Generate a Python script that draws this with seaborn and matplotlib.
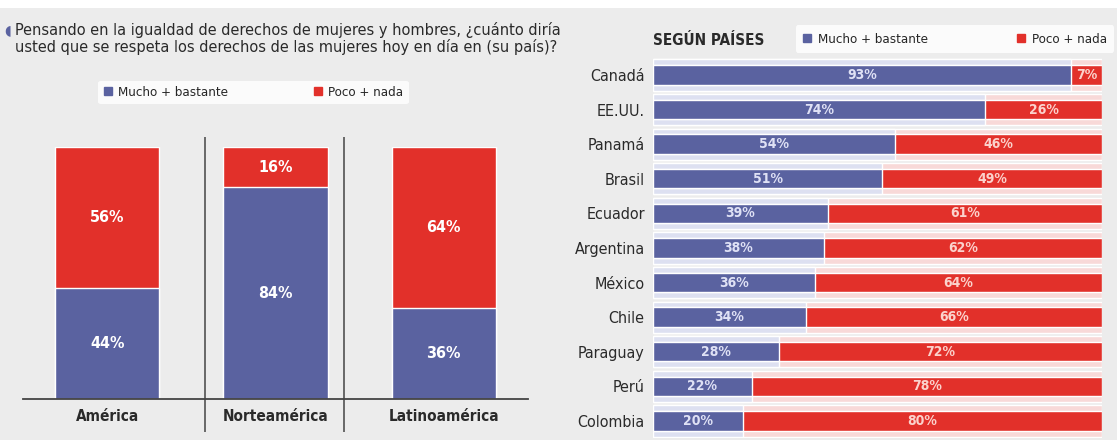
import matplotlib
matplotlib.use('Agg')
import matplotlib.pyplot as plt
from matplotlib import font_manager
from matplotlib.patches import Patch, Rectangle
import pandas as pd
import seaborn as sns

# ==========================================
# DATOS
# ==========================================
regiones = ['América', 'Norteamérica', 'Latinoamérica']
region_mucho = [44, 84, 36]
region_poco = [56, 16, 64]

paises = ['Canadá', 'EE.UU.', 'Panamá', 'Brasil', 'Ecuador', 'Argentina',
          'México', 'Chile', 'Paraguay', 'Perú', 'Colombia']
pais_mucho = [93, 74, 54, 51, 39, 38, 36, 34, 28, 22, 20]
pais_poco = [7, 26, 46, 49, 61, 62, 64, 66, 72, 78, 80]

etiquetas = ['Mucho + bastante', 'Poco + nada']
titulo = ('Pensando en la igualdad de derechos de mujeres y hombres, ¿cuánto diría\n'
          'usted que se respeta los derechos de las mujeres hoy en día en (su país)?')

# colores
AZUL = '#5a62a0'
ROJO = '#e2302a'
AZUL_CLARO = '#dde0f1'
ROJO_CLARO = '#f8d9d8'
FONDO = '#ececec'
TEXTO = '#2a2a2a'

sns.set_theme(style='white')
plt.rcParams['font.family'] = ['DejaVu Sans']
plt.rcParams['font.stretch'] = 'condensed'

# si no hay versión condensada, reducir un poco los tamaños
hay_condensada = any(('Condensed' in f.fname) for f in font_manager.fontManager.ttflist)
k = 1.0 if hay_condensada else 0.85

df_reg = pd.DataFrame({'region': regiones, 'mucho': region_mucho, 'poco': region_poco})
df_reg['total'] = df_reg['mucho'] + df_reg['poco']
df_pais = pd.DataFrame({'pais': paises, 'mucho': pais_mucho, 'poco': pais_poco})
df_pais['total'] = df_pais['mucho'] + df_pais['poco']

fig = plt.figure(figsize=(11.17, 4.4), dpi=100, facecolor=FONDO)

# franja blanca superior
fig.patches.append(Rectangle((0, 0.982), 1, 0.018, transform=fig.transFigure,
                             facecolor='white', edgecolor='none', zorder=0))

# ==========================================
# 1. PANEL IZQUIERDO - POR REGIÓN
# ==========================================
ax1 = fig.add_axes([0.0206, 0.0932, 0.452, 0.5727])
ax1.set_facecolor('none')

# apilado: rojo hasta el total, azul encima
sns.barplot(data=df_reg, x='region', y='total', color=ROJO, width=0.62,
            saturation=1, ax=ax1)
sns.barplot(data=df_reg, x='region', y='mucho', color=AZUL, width=0.62,
            saturation=1, ax=ax1)

for i, row in df_reg.iterrows():
    ax1.text(i, row['mucho'] / 2, f"{row['mucho']}%", ha='center', va='center',
             color='white', fontsize=11.5 * k, fontweight='bold')
    ax1.text(i, row['mucho'] + row['poco'] / 2, f"{row['poco']}%", ha='center',
             va='center', color='white', fontsize=11.5 * k, fontweight='bold')

ax1.set_xlim(-0.5, 2.5)
ax1.set_ylim(0, 100)
ax1.set_xlabel('')
ax1.set_ylabel('')
ax1.set_yticks([])
ax1.tick_params(axis='x', length=0, pad=7, labelsize=11 * k, labelcolor=TEXTO)
for lbl in ax1.get_xticklabels():
    lbl.set_fontweight('bold')
for s in ['top', 'left', 'right']:
    ax1.spines[s].set_visible(False)
ax1.spines['bottom'].set_color('#444444')
ax1.spines['bottom'].set_linewidth(1.3)

# separadores verticales
ax1.vlines([0.58, 1.41], -13, 104, color='#444444', linewidth=1.1, clip_on=False)

# título
fig.text(0.004, 0.931, '◖', color=AZUL, fontsize=10, va='center')
fig.text(0.013, 0.912, titulo, color=TEXTO, fontsize=11.7 * k, va='center',
         linespacing=1.05)

leg1 = fig.legend(handles=[Patch(color=AZUL), Patch(color=ROJO)], labels=etiquetas,
                  loc='center', bbox_to_anchor=(0.227, 0.79), ncol=2,
                  frameon=True, fontsize=9.5 * k, handlelength=0.6, handleheight=0.6,
                  handletextpad=0.5, columnspacing=6.5, borderpad=0.4)
leg1.get_frame().set_facecolor('white')
leg1.get_frame().set_edgecolor('none')
leg1.get_frame().set_alpha(0.8)

# ==========================================
# 2. PANEL DERECHO - SEGÚN PAÍSES
# ==========================================
ax2 = fig.add_axes([0.5846, 0.004, 0.402, 0.865])
ax2.set_facecolor('none')

# bandas claras de fondo
sns.barplot(data=df_pais, y='pais', x='total', color=ROJO_CLARO, width=0.9,
            saturation=1, orient='h', ax=ax2)
sns.barplot(data=df_pais, y='pais', x='mucho', color=AZUL_CLARO, width=0.9,
            saturation=1, orient='h', ax=ax2)
# barras
sns.barplot(data=df_pais, y='pais', x='total', color=ROJO, width=0.56,
            saturation=1, orient='h', ax=ax2)
sns.barplot(data=df_pais, y='pais', x='mucho', color=AZUL, width=0.56,
            saturation=1, orient='h', ax=ax2)

for i, row in df_pais.iterrows():
    ax2.text(row['mucho'] / 2, i, f"{row['mucho']}%", ha='center', va='center',
             color='#dfe1f5', fontsize=10 * k, fontweight='bold')
    ax2.text(row['mucho'] + row['poco'] / 2, i, f"{row['poco']}%", ha='center',
             va='center', color='#fbd2cc', fontsize=10 * k, fontweight='bold')

ax2.set_xlim(0, 100)
ax2.set_ylim(10.5, -0.5)
ax2.set_xlabel('')
ax2.set_ylabel('')
ax2.set_xticks([])
ax2.tick_params(axis='y', length=0, pad=6, labelsize=11.5 * k, labelcolor=TEXTO)
sns.despine(ax=ax2, top=True, right=True, bottom=True, left=True)

fig.text(0.5845, 0.909, 'SEGÚN PAÍSES', color=TEXTO, fontsize=11 * k,
         fontweight='bold', va='center')

leg2 = fig.legend(handles=[Patch(color=AZUL), Patch(color=ROJO)], labels=etiquetas,
                  loc='center', bbox_to_anchor=(0.855, 0.911), ncol=2,
                  frameon=True, fontsize=9.5 * k, handlelength=0.6, handleheight=0.6,
                  handletextpad=0.5, columnspacing=6.8, borderpad=0.55)
leg2.get_frame().set_facecolor('white')
leg2.get_frame().set_edgecolor('none')

fig.savefig('out.png', dpi=100, facecolor=FONDO)
